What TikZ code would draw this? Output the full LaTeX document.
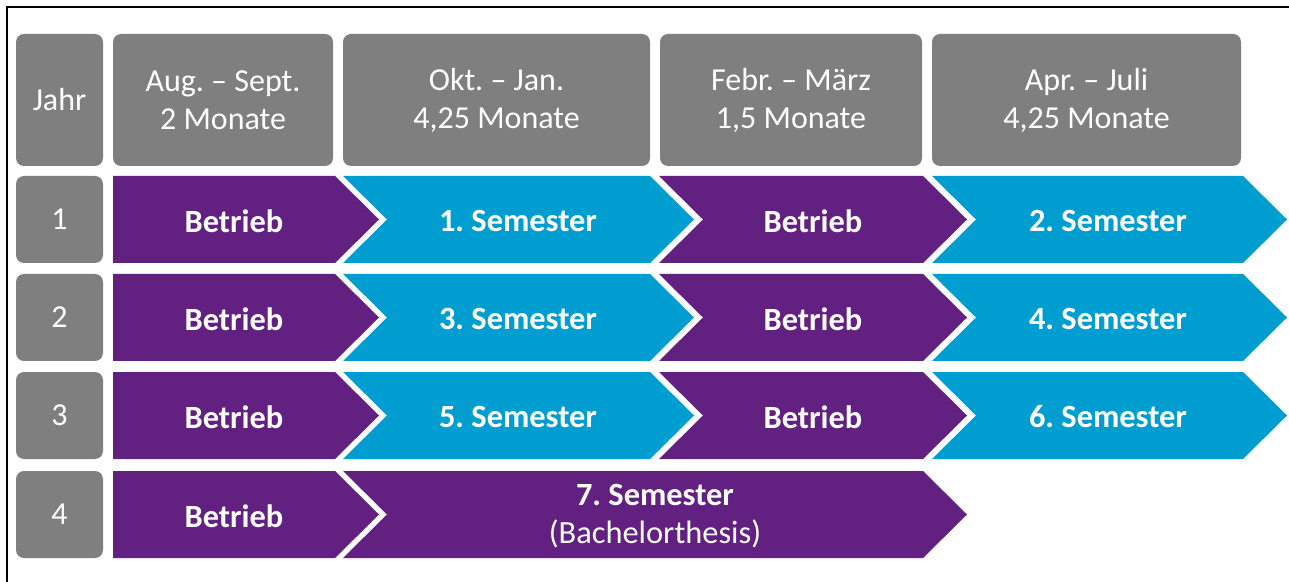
\documentclass[tikz,border=0pt]{standalone}
\usepackage{fontspec}
\setmainfont{Carlito}
\frenchspacing
\definecolor{grau}{HTML}{7F7F7F}
\definecolor{lila}{HTML}{622080}
\definecolor{blau}{HTML}{009ED0}
\tikzset{
  kasten/.style={fill=grau, rounded corners=4pt, text=white, align=center,
    font=\fontsize{16}{19}\selectfont, inner sep=0pt},
  etikett/.style={text=white, align=center, font=\fontsize{16.2}{19}\selectfont\bfseries}
}

\begin{document}
\begin{tikzpicture}[x=0.5pt,y=-0.5pt]
\useasboundingbox (0,0) rectangle (1289,582);
\newcommand\betrieb[3]{
\fill[lila] (#1,#3) -- (#2,#3) -- ({#2+44},{#3+43.5}) -- (#2,{#3+87}) -- (#1,{#3+87}) -- cycle;
}
\newcommand\pfeil[4]{
\fill[#4] (#1,#3) -- (#2,#3) -- ({#2+44},{#3+43.5}) -- (#2,{#3+87}) -- (#1,{#3+87}) -- ({#1+44},{#3+43.5}) -- cycle;
}
% Rahmen
\draw[line width=1pt] (7,582) -- (7,7) -- (1289,7);
% Kopfzeile
\node[kasten, minimum width=43.5pt, minimum height=66pt] (jahr) at (59.5,100) {Jahr};
\node[kasten, minimum width=110pt, minimum height=66pt] (aug) at (223,100) {Aug. -- Sept.\\2 Monate};
\node[kasten, minimum width=153.5pt, minimum height=66pt] (okt) at (496.5,100) {Okt. -- Jan.\\4,25 Monate};
\node[kasten, minimum width=131pt, minimum height=66pt] (feb) at (791,100) {Febr. -- März\\1,5 Monate};
\node[kasten, minimum width=154.5pt, minimum height=66pt] (apr) at (1086.5,100) {Apr. -- Juli\\4,25 Monate};
% Jahr 1
\node[kasten, minimum width=43.5pt, minimum height=43.5pt] (j1) at (59.5,219.5) {1};
\betrieb{113}{335}{176}
\pfeil{343}{650}{176}{blau}
\pfeil{659}{923}{176}{lila}
\pfeil{932}{1243}{176}{blau}
\node[etikett] (b11) at (234,221) {Betrieb};
\node[etikett] (s1) at (518,221) {1. Semester};
\node[etikett] (b12) at (813,221) {Betrieb};
\node[etikett] (s2) at (1108,221) {2. Semester};
% Jahr 2
\node[kasten, minimum width=43.5pt, minimum height=43.5pt] (j2) at (59.5,317.5) {2};
\betrieb{113}{335}{274}
\pfeil{343}{650}{274}{blau}
\pfeil{659}{923}{274}{lila}
\pfeil{932}{1243}{274}{blau}
\node[etikett] (b21) at (234,319) {Betrieb};
\node[etikett] (s3) at (518,319) {3. Semester};
\node[etikett] (b22) at (813,319) {Betrieb};
\node[etikett] (s4) at (1108,319) {4. Semester};
% Jahr 3
\node[kasten, minimum width=43.5pt, minimum height=43.5pt] (j3) at (59.5,415.5) {3};
\betrieb{113}{335}{372}
\pfeil{343}{650}{372}{blau}
\pfeil{659}{923}{372}{lila}
\pfeil{932}{1243}{372}{blau}
\node[etikett] (b31) at (234,417) {Betrieb};
\node[etikett] (s5) at (518,417) {5. Semester};
\node[etikett] (b32) at (813,417) {Betrieb};
\node[etikett] (s6) at (1108,417) {6. Semester};
% Jahr 4
\node[kasten, minimum width=43.5pt, minimum height=43.5pt] (j4) at (59.5,514.5) {4};
\betrieb{113}{335}{471}
\pfeil{343}{923}{471}{lila}
\node[etikett] (b41) at (234,516) {Betrieb};
\node[etikett] (s7) at (655,516) {7. Semester\\\mdseries(Bachelorthesis)};
\end{tikzpicture}
\end{document}
